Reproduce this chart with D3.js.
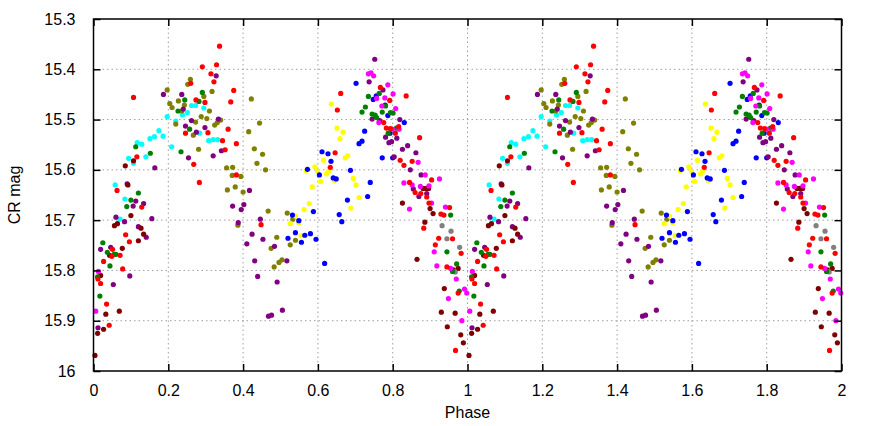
<!DOCTYPE html>
<html>
<head>
<meta charset="utf-8">
<script src="https://cdn.jsdelivr.net/npm/d3@7"></script>
<style>
  body { margin: 0; background: #fff; }
  text { font-family: "Liberation Sans", Arial, sans-serif; }
</style>
</head>
<body>
<script>
// phase-folded points, one array per colour (phase 0..1, drawn again at +1)
const red = [
  [0.107,15.456],[0.116,15.574],[0.063,15.641],[0.129,15.674],[0.086,15.729],[0.096,15.743],
  [0.051,15.758],[0.049,15.772],[0.071,15.770],[0.027,15.782],[0.078,15.797],[0.012,15.817],
  [0.019,15.826],[0.035,15.867],[0.042,15.909],[0.337,15.354],[0.291,15.395],[0.329,15.391],
  [0.314,15.409],[0.260,15.428],[0.322,15.425],[0.375,15.442],[0.274,15.461],[0.298,15.466],
  [0.367,15.465],[0.360,15.519],[0.246,15.527],[0.306,15.526],[0.345,15.542],[0.382,15.548],
  [0.352,15.560],[0.268,15.589],[0.382,15.610],[0.283,15.625],[0.448,15.709],[0.661,15.448],
  [0.652,15.481],[0.646,15.566],[0.633,15.595],[0.767,15.436],[0.836,15.453],[0.792,15.462],
  [0.776,15.506],[0.783,15.517],[0.794,15.518],[0.816,15.514],[0.807,15.527],[0.872,15.536],
  [0.820,15.581],[0.852,15.583],[0.830,15.591],[0.904,15.620],[0.845,15.625],[0.860,15.645],
  [0.875,15.647],[0.891,15.654],[0.897,15.666],[0.929,15.688],[0.937,15.690],[0.952,15.675],
  [0.883,15.716],[0.960,15.737],[0.923,15.736],[0.914,15.749],[0.983,15.766],[0.945,15.793],
  [0.975,15.845],[0.968,15.959]
];
const green = [
  [0.226,15.483],[0.234,15.564],[0.113,15.554],[0.152,15.567],[0.120,15.646],[0.100,15.660],
  [0.089,15.673],[0.025,15.745],[0.037,15.764],[0.055,15.768],[0.060,15.768],[0.044,15.791],
  [0.011,15.813],[0.017,15.851],[0.291,15.446],[0.244,15.461],[0.282,15.464],[0.257,15.519],
  [0.735,15.454],[0.727,15.475],[0.718,15.485],[0.764,15.448],[0.781,15.473],[0.745,15.489],
  [0.753,15.491],[0.772,15.485],[0.794,15.486],[0.801,15.487],[0.757,15.496],[0.810,15.517],
  [0.788,15.527],[0.955,15.690],[0.945,15.763],[0.971,15.787],[0.960,15.802],[0.978,15.841]
];
const maroon = [
  [0.107,15.582],[0.085,15.592],[0.092,15.630],[0.100,15.691],[0.056,15.711],[0.064,15.707],
  [0.127,15.716],[0.134,15.728],[0.120,15.741],[0.043,15.770],[0.077,15.756],[0.019,15.810],
  [0.033,15.887],[0.069,15.881],[0.027,15.917],[0.011,15.925],[0.004,15.969],[0.881,15.637],
  [0.889,15.637],[0.896,15.637],[0.826,15.666],[0.900,15.677],[0.908,15.687],[0.886,15.704],
  [0.865,15.778],[0.962,15.799],[0.975,15.796],[0.938,15.836],[0.930,15.883],[0.967,15.885],
  [0.946,15.912],[0.982,15.928],[0.989,15.944]
];
const purple = [
  [0.187,15.450],[0.164,15.596],[0.090,15.628],[0.113,15.662],[0.134,15.667],[0.106,15.672],
  [0.156,15.697],[0.060,15.694],[0.083,15.703],[0.120,15.713],[0.141,15.734],[0.019,15.758],
  [0.046,15.754],[0.053,15.828],[0.097,15.811],[0.012,15.914],[0.236,15.450],[0.328,15.413],
  [0.240,15.479],[0.262,15.502],[0.334,15.499],[0.246,15.513],[0.298,15.516],[0.275,15.525],
  [0.342,15.562],[0.254,15.576],[0.320,15.572],[0.417,15.641],[0.372,15.672],[0.402,15.669],
  [0.395,15.679],[0.387,15.705],[0.446,15.698],[0.424,15.728],[0.410,15.747],[0.453,15.738],
  [0.484,15.752],[0.431,15.781],[0.439,15.812],[0.491,15.823],[0.468,15.891],[0.476,15.889],
  [0.737,15.425],[0.517,15.781],[0.505,15.879],[0.752,15.380],[0.774,15.441],[0.745,15.499],
  [0.765,15.502],[0.819,15.500],[0.781,15.535],[0.790,15.546],[0.797,15.544],[0.811,15.537],
  [0.840,15.552],[0.826,15.559],[0.862,15.566],[0.804,15.574],[0.847,15.600],[0.876,15.610],
  [0.855,15.638],[0.891,15.647],[0.870,15.653]
];
const olive = [
  [0.197,15.441],[0.204,15.468],[0.210,15.476],[0.227,15.463],[0.220,15.509],[0.259,15.420],
  [0.252,15.430],[0.295,15.454],[0.317,15.444],[0.422,15.459],[0.243,15.471],[0.310,15.483],
  [0.236,15.483],[0.288,15.494],[0.303,15.498],[0.273,15.505],[0.340,15.501],[0.331,15.506],
  [0.324,15.511],[0.444,15.507],[0.415,15.524],[0.267,15.531],[0.430,15.558],[0.281,15.559],
  [0.452,15.569],[0.437,15.587],[0.356,15.596],[0.372,15.595],[0.460,15.600],[0.371,15.611],
  [0.394,15.613],[0.379,15.634],[0.358,15.640],[0.400,15.644],[0.467,15.682],[0.386,15.710],
  [0.490,15.734],[0.475,15.756],[0.496,15.784],[0.483,15.793],[0.518,15.686],[0.533,15.698],
  [0.540,15.740],[0.526,15.749],[0.504,15.779]
];
const cyan = [
  [0.197,15.494],[0.220,15.503],[0.175,15.522],[0.163,15.534],[0.151,15.538],[0.186,15.533],
  [0.209,15.554],[0.117,15.546],[0.129,15.549],[0.094,15.577],[0.107,15.587],[0.140,15.574],
  [0.058,15.630],[0.084,15.658],[0.071,15.698],[0.262,15.472],[0.273,15.472],[0.295,15.477],
  [0.251,15.486],[0.238,15.491],[0.284,15.527],[0.308,15.542],[0.320,15.540],[0.332,15.540]
];
const blue = [
  [0.702,15.428],[0.725,15.523],[0.718,15.543],[0.710,15.548],[0.611,15.564],[0.627,15.568],
  [0.635,15.583],[0.572,15.599],[0.604,15.610],[0.687,15.601],[0.641,15.616],[0.649,15.618],
  [0.740,15.625],[0.733,15.653],[0.679,15.660],[0.588,15.683],[0.657,15.689],[0.664,15.703],
  [0.532,15.690],[0.549,15.701],[0.540,15.725],[0.565,15.730],[0.580,15.727],[0.520,15.736],
  [0.556,15.744],[0.595,15.738],[0.618,15.786],[0.756,15.453],[0.748,15.460],[0.780,15.471],
  [0.787,15.492],[0.831,15.506],[0.793,15.527],[0.772,15.576],[0.800,15.576]
];
const yellow = [
  [0.636,15.469],[0.651,15.517],[0.667,15.525],[0.659,15.538],[0.680,15.572],[0.673,15.576],
  [0.615,15.581],[0.629,15.602],[0.623,15.608],[0.592,15.594],[0.569,15.602],[0.599,15.603],
  [0.644,15.621],[0.695,15.617],[0.607,15.623],[0.702,15.630],[0.585,15.634],[0.710,15.655],
  [0.577,15.667],[0.688,15.676],[0.563,15.679],[0.540,15.692],[0.549,15.705],[0.526,15.707],
  [0.555,15.731]
];
const magenta = [
  [0.013,15.802],[0.006,15.881],[0.735,15.409],[0.742,15.407],[0.749,15.413],[0.787,15.431],
  [0.757,15.458],[0.779,15.457],[0.801,15.449],[0.771,15.473],[0.808,15.478],[0.763,15.506],
  [0.799,15.519],[0.817,15.519],[0.868,15.585],[0.887,15.610],[0.925,15.618],[0.830,15.626],
  [0.852,15.630],[0.874,15.633],[0.897,15.632],[0.845,15.678],[0.904,15.666],[0.941,15.674],
  [0.911,15.763],[0.918,15.791],[0.955,15.796],[0.970,15.817],[0.992,15.837],[0.998,15.845],
  [0.949,15.856],[0.985,15.900]
];
const gray = [
  [0.932,15.711],[0.956,15.722],[0.945,15.737],[0.979,15.754],[0.967,15.803]
];

const series = [
  {name: "cyan", color: "#00ffff", pts: cyan},
  {name: "olive", color: "#808000", pts: olive},
  {name: "yellow", color: "#ffff00", pts: yellow},
  {name: "blue", color: "#0000ff", pts: blue},
  {name: "purple", color: "#800080", pts: purple},
  {name: "maroon", color: "#800000", pts: maroon},
  {name: "gray", color: "#808080", pts: gray},
  {name: "green", color: "#008000", pts: green},
  {name: "magenta", color: "#ff00ff", pts: magenta},
  {name: "red", color: "#ff0000", pts: red}
];

const xTicks = [0, 0.2, 0.4, 0.6, 0.8, 1, 1.2, 1.4, 1.6, 1.8, 2];
const yTicks = [15.3, 15.4, 15.5, 15.6, 15.7, 15.8, 15.9, 16];

const width = 872;
const height = 426;
const plotLeft = 93.5, plotRight = 841.5, plotTop = 19, plotBottom = 371;

const svg = d3.select("body")
  .append("svg")
  .attr("width", width)
  .attr("height", height);

const xScale = d3.scaleLinear().domain([0, 2]).range([plotLeft, plotRight]);
const yScale = d3.scaleLinear().domain([15.3, 16]).range([plotTop, plotBottom]);

// dotted grid
svg.append("g")
  .selectAll("line")
  .data(xTicks.slice(1, -1))
  .join("line")
  .attr("x1", d => xScale(d)).attr("x2", d => xScale(d))
  .attr("y1", plotTop).attr("y2", plotBottom)
  .attr("stroke", "#a0a0a0")
  .attr("stroke-dasharray", "1.5,3");

svg.append("g")
  .selectAll("line")
  .data(yTicks.slice(1, -1))
  .join("line")
  .attr("y1", d => yScale(d)).attr("y2", d => yScale(d))
  .attr("x1", plotLeft).attr("x2", plotRight)
  .attr("stroke", "#a0a0a0")
  .attr("stroke-dasharray", "1.5,3");

// points, each phase drawn twice
series.forEach(s => {
  const both = s.pts.map(d => [d[0], d[1]]).concat(s.pts.map(d => [d[0] + 1, d[1]]));
  svg.append("g")
    .attr("class", s.name)
    .selectAll("circle")
    .data(both)
    .join("circle")
    .attr("cx", d => xScale(d[0]))
    .attr("cy", d => yScale(d[1]))
    .attr("r", 2.6)
    .attr("fill", s.color);
});

// axes with inward ticks on all four sides
const tickLen = 7;
const fmt = d => String(+d.toFixed(1));

svg.append("g")
  .attr("transform", "translate(0," + plotBottom + ")")
  .call(d3.axisBottom(xScale).tickValues(xTicks).tickSize(-tickLen).tickPadding(14).tickFormat(fmt))
  .call(g => g.select(".domain").remove());

svg.append("g")
  .attr("transform", "translate(0," + plotTop + ")")
  .call(d3.axisTop(xScale).tickValues(xTicks).tickSize(-tickLen).tickFormat(""))
  .call(g => g.select(".domain").remove());

svg.append("g")
  .attr("transform", "translate(" + plotLeft + ",0)")
  .call(d3.axisLeft(yScale).tickValues(yTicks).tickSize(-tickLen).tickPadding(18).tickFormat(fmt))
  .call(g => g.select(".domain").remove());

svg.append("g")
  .attr("transform", "translate(" + plotRight + ",0)")
  .call(d3.axisRight(yScale).tickValues(yTicks).tickSize(-tickLen).tickFormat(""))
  .call(g => g.select(".domain").remove());

svg.selectAll(".tick line").attr("stroke", "#000").attr("stroke-width", 1.5);
svg.selectAll(".tick text")
  .attr("font-size", 16)
  .attr("fill", "#000")
  .style("font-family", "'Liberation Sans', Arial, sans-serif");

svg.append("rect")
  .attr("x", plotLeft).attr("y", plotTop)
  .attr("width", plotRight - plotLeft).attr("height", plotBottom - plotTop)
  .attr("fill", "none")
  .attr("stroke", "#000")
  .attr("stroke-width", 1.5);

svg.append("text")
  .attr("x", (plotLeft + plotRight) / 2)
  .attr("y", 418)
  .attr("text-anchor", "middle")
  .attr("font-size", 16)
  .text("Phase");

svg.append("text")
  .attr("transform", "translate(20," + ((plotTop + plotBottom) / 2) + ") rotate(-90)")
  .attr("text-anchor", "middle")
  .attr("font-size", 16)
  .text("CR mag");
</script>
</body>
</html>
